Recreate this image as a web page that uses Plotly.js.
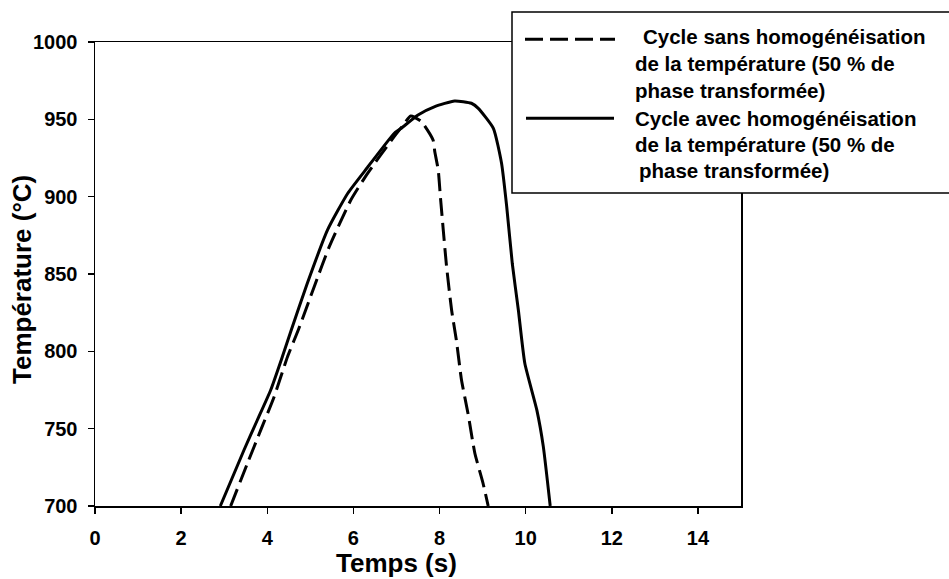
<!DOCTYPE html>
<html>
<head>
<meta charset="utf-8">
<script src="https://cdn.plot.ly/plotly-3.0.1.min.js"></script>
<style>html,body{margin:0;padding:0;background:#fff;}#chart{width:949px;height:579px;}</style>
</head>
<body>
<div id="chart"></div>
<script>
// Data
var sansX = [3.15, 3.54, 3.85, 4.16, 4.47, 4.72, 5.09, 5.44, 5.94, 6.33, 6.95, 7.15, 7.33, 7.58, 7.85, 7.89, 7.97, 8.02, 8.16, 8.28, 8.39, 8.51, 8.66, 8.82, 9.01, 9.13];
var sansY = [700, 727.6, 749.2, 770.7, 796.5, 813.8, 841.8, 867.7, 897.8, 915.1, 939, 946, 952.2, 948.5, 936.6, 929, 917.2, 900, 855.8, 826.7, 807.3, 781.5, 760, 734.1, 714.7, 700];

var avecX = [2.91, 3.46, 3.77, 4.08, 4.35, 4.55, 4.93, 5.40, 5.87, 6.33, 6.95, 7.11, 7.50, 7.89, 8.35, 8.74, 8.90, 9.25, 9.44, 9.56, 9.69, 9.83, 9.98, 10.26, 10.41, 10.57];
var avecY = [700, 736.2, 755.6, 775, 796.5, 813.2, 844, 878.5, 902.2, 919, 941, 944.2, 952.8, 958.2, 961.9, 960.4, 957.1, 944.2, 921.6, 893.5, 856.6, 826.7, 792.3, 762, 738.4, 700];

var xTicks = [0, 2, 4, 6, 8, 10, 12, 14];
var yTicks = [700, 750, 800, 850, 900, 950, 1000];

var legendLines = [
  ["Cycle sans homogénéisation", "de la température (50 % de", "phase transformée)"],
  ["Cycle avec homogénéisation", "de la température (50 % de", "phase transformée)"]
];
var xTitle = "Temps (s)";
var yTitle = "Température (°C)";

// Layout helpers (pixel -> paper)
var L = 95, R = 741, T = 42, B = 506;
function px(x){ return (x - L) / (R - L); }
function py(y){ return (B - y) / (B - T); }

var FAM = "Liberation Sans, Arial, sans-serif";
var tickFont = {family: FAM, size: 20, color: "#000", weight: 700};

var traces = [
  {x: sansX, y: sansY, mode: "lines", name: legendLines[0].join(" "),
   line: {color: "#000", width: 3, dash: "18px,7px", shape: "spline", smoothing: 0.5}, showlegend: false, hoverinfo: "skip"},
  {x: avecX, y: avecY, mode: "lines", name: legendLines[1].join(" "),
   line: {color: "#000", width: 3, shape: "spline", smoothing: 0.5}, showlegend: false, hoverinfo: "skip"}
];

var lineYs = [36.7, 63.3, 90, 118.3, 144, 170];
var lineXs = [641, 633, 633, 633, 633, 637];
var annotations = [];
var k = 0;
for (var i = 0; i < legendLines.length; i++) {
  for (var j = 0; j < legendLines[i].length; j++) {
    annotations.push({xref: "paper", yref: "paper", x: px(lineXs[k]), y: py(lineYs[k]),
      xanchor: "left", yanchor: "middle", showarrow: false, text: legendLines[i][j],
      font: {family: FAM, size: 20.5, color: "#000", weight: 700}});
    k++;
  }
}
annotations.push({xref: "paper", yref: "paper", x: px(396), y: py(563), xanchor: "center", yanchor: "middle",
  showarrow: false, text: xTitle, font: {family: FAM, size: 26, color: "#000", weight: 700}});
annotations.push({xref: "paper", yref: "paper", x: px(22), y: py(280), xanchor: "center", yanchor: "middle",
  showarrow: false, text: yTitle, textangle: -90, font: {family: FAM, size: 26, color: "#000", weight: 700}});

var shapes = [
  {type: "rect", xref: "paper", yref: "paper", x0: px(512), x1: px(975), y0: py(12), y1: py(193),
   line: {color: "#000", width: 1.5}, fillcolor: "#fff", layer: "above"},
  {type: "line", xref: "paper", yref: "paper", x0: px(525), x1: px(615), y0: py(39.3), y1: py(39.3),
   line: {color: "#000", width: 3, dash: "18px,7px"}, layer: "above"},
  {type: "line", xref: "paper", yref: "paper", x0: px(526), x1: px(614), y0: py(118.3), y1: py(118.3),
   line: {color: "#000", width: 3}, layer: "above"}
];

var layout = {
  width: 949, height: 579,
  margin: {l: L, r: 949 - R, t: T, b: 579 - B, pad: 0},
  paper_bgcolor: "#fff", plot_bgcolor: "#fff",
  showlegend: false,
  xaxis: {range: [0, 15], tickvals: xTicks, ticktext: xTicks.map(String), showgrid: false, zeroline: false,
    showline: true, linecolor: "#000", linewidth: 1.5, mirror: true,
    ticks: "outside", ticklen: 6, tickwidth: 1.5, tickcolor: "#000", tickfont: tickFont, ticklabelstandoff: 7},
  yaxis: {range: [700, 1000], tickvals: yTicks, ticktext: yTicks.map(String), showgrid: false, zeroline: false,
    showline: true, linecolor: "#000", linewidth: 1.5, mirror: true,
    ticks: "outside", ticklen: 6, tickwidth: 1.5, tickcolor: "#000", tickfont: tickFont, ticklabelstandoff: 6},
  annotations: annotations,
  shapes: shapes
};

Plotly.newPlot("chart", traces, layout, {staticPlot: true, displayModeBar: false});
</script>
</body>
</html>
